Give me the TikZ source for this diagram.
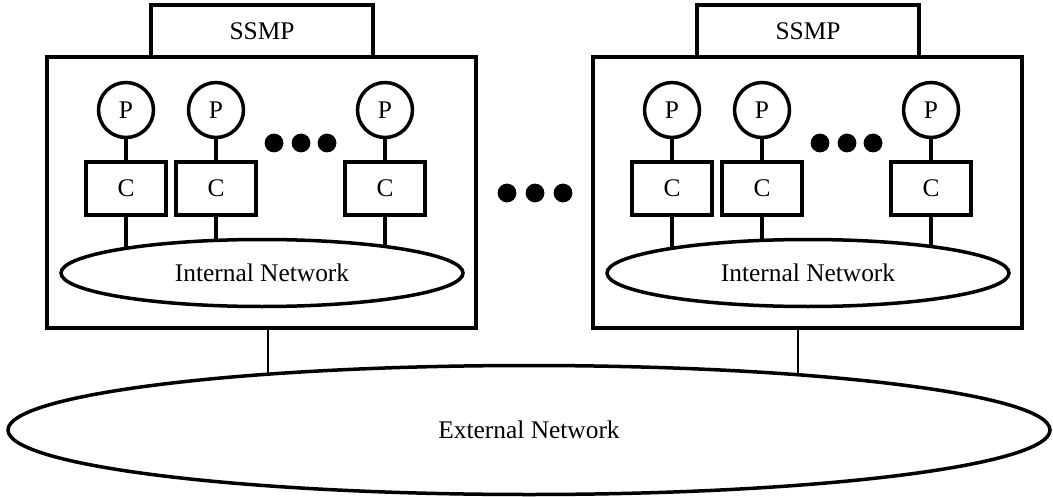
\documentclass[tikz,border=0pt]{standalone}
\usepackage{fontspec}
\setmainfont{Liberation Serif}
\usetikzlibrary{shapes.geometric}

\tikzset{
  unit/.style={draw, rectangle, inner sep=0pt},
  proc/.style={draw, circle, inner sep=0pt, minimum size=27.5pt},
  cache/.style={draw, rectangle, inner sep=0pt, minimum width=40pt, minimum height=26.5pt},
  net/.style={draw, ellipse, inner sep=0pt},
  link/.style={line width=1.1pt}
}

\begin{document}
\begin{tikzpicture}[x=0.5pt, y=-0.5pt, line width=1.75pt, font=\fontsize{12.7}{15}\selectfont]
\useasboundingbox (0,0) rectangle (1053,497);

% one SSMP cluster per pass, the right one shifted by 546
\foreach \s/\dx in {L/0, R/546} {
    % outer box and its SSMP tab
    \node[unit, minimum width=214.5pt, minimum height=135.5pt] (box\s) at (261.5+\dx,192.5) {};
    \node[unit, minimum width=111pt, minimum height=26pt] (ssmp\s) at (262+\dx,31) {SSMP};
    % internal network
    \node[net, minimum width=201pt, minimum height=33.5pt] (net\s) at (262+\dx,273) {Internal Network};
    % processors and caches
    \foreach \k/\x/\a in {1/126/170, 2/216/144, 3/385/12} {
        \node[proc] (P\s\k) at (\x+\dx,110) {P};
        \node[cache] (C\s\k) at (\x+\dx,188.5) {C};
        \draw (P\s\k) -- (C\s\k);
        \draw (C\s\k.south) -- (C\s\k.south |- net\s.\a);
    }
    % dots for the processors left out
    \foreach \x in {274, 301, 327}
        \fill (\x+\dx,143) circle[radius=4.7pt];
}

% dots between the two clusters
\foreach \x in {507, 535, 563}
    \fill (\x,193) circle[radius=4.7pt];

% external network
\node[net, minimum width=521pt, minimum height=64.5pt] (ext) at (529,430) {External Network};
\coordinate (upL) at (268,0);
\coordinate (upR) at (798,0);
\draw[link] (upL |- boxL.south) -- (upL |- ext.168);
\draw[link] (upR |- boxR.south) -- (upR |- ext.12);

\end{tikzpicture}
\end{document}
